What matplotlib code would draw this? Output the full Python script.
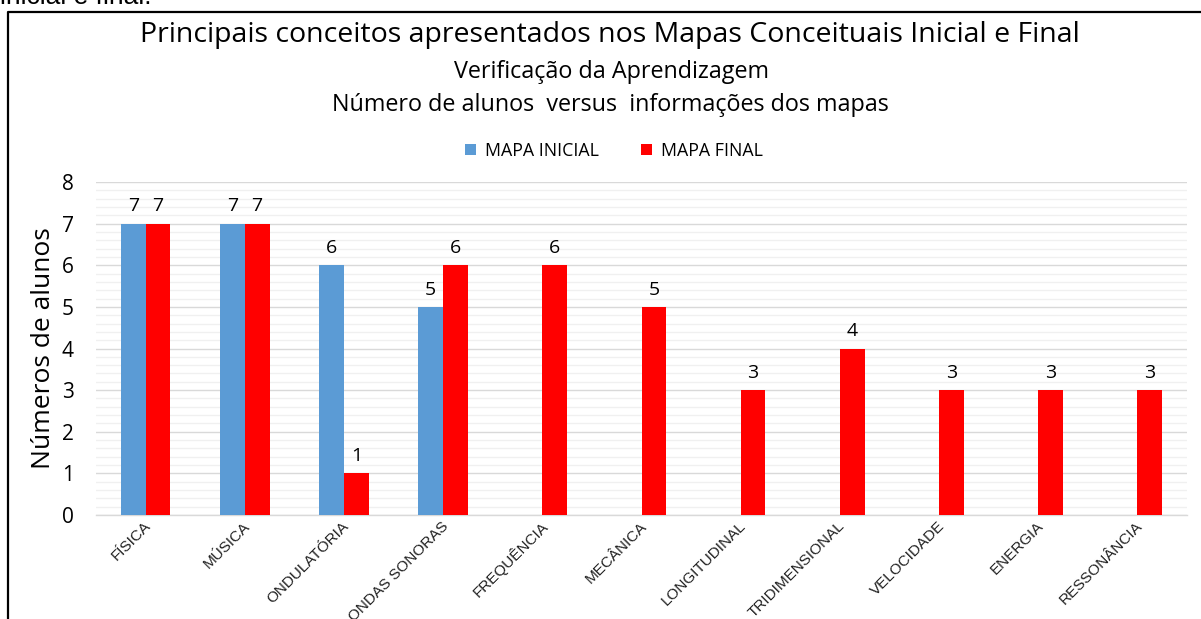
import numpy as np
import matplotlib
matplotlib.use("Agg")
import matplotlib.pyplot as plt
from matplotlib.lines import Line2D
from matplotlib.patches import Patch
from matplotlib.ticker import MultipleLocator
from matplotlib.transforms import offset_copy

categories = ["FÍSICA", "MÚSICA", "ONDULATÓRIA", "ONDAS SONORAS", "FREQUÊNCIA",
              "MECÂNICA", "LONGITUDINAL", "TRIDIMENSIONAL", "VELOCIDADE",
              "ENERGIA", "RESSONÂNCIA"]
mapa_inicial = [7, 7, 6, 5, 0, 0, 0, 0, 0, 0, 0]
mapa_final = [7, 7, 1, 6, 6, 5, 3, 4, 3, 3, 3]
y_ticks = [0, 1, 2, 3, 4, 5, 6, 7, 8]

BLUE = "#5B9BD5"
RED = "#FF0000"
MAIN_FONT = ["Open Sans", "DejaVu Sans"]
TICK_FONT = ["Liberation Sans", "DejaVu Sans"]

W, H = 1201, 619
fig = plt.figure(figsize=(W / 100, H / 100), dpi=100)
fig.patch.set_facecolor("white")

ax = fig.add_axes([96 / W, 1 - 515 / H, (1187 - 96) / W, (515 - 182) / H])

x = np.arange(len(categories))
bw = 0.25
ax.bar(x - bw / 2, mapa_inicial, width=bw, color=BLUE, zorder=3)
ax.bar(x + bw / 2, mapa_final, width=bw, color=RED, zorder=3)

for xi, v in zip(x, mapa_inicial):
    if v > 0:
        ax.annotate(str(v), (xi - bw / 2, v), xytext=(0, 6), textcoords="offset points",
                    ha="center", va="bottom", fontsize=14, family=MAIN_FONT)
for xi, v in zip(x, mapa_final):
    if v > 0:
        ax.annotate(str(v), (xi + bw / 2, v), xytext=(0, 6), textcoords="offset points",
                    ha="center", va="bottom", fontsize=14, family=MAIN_FONT)

ax.set_xlim(-0.5, len(categories) - 0.5)
ax.set_ylim(0, 8)
ax.set_yticks(y_ticks)
ax.yaxis.set_minor_locator(MultipleLocator(0.2))
ax.grid(axis="y", which="major", color="#d9d9d9", linewidth=1.0, zorder=0)
ax.grid(axis="y", which="minor", color="#f0f0f0", linewidth=1.0, zorder=0)
ax.tick_params(axis="y", which="both", length=0, labelsize=15, pad=16)
for lab in ax.get_yticklabels():
    lab.set_family(MAIN_FONT)
ax.tick_params(axis="x", length=0)
for s in ["top", "right", "left"]:
    ax.spines[s].set_visible(False)
ax.spines["bottom"].set_color("#d9d9d9")
ax.spines["bottom"].set_linewidth(1.0)

ax.set_xticks(x)
ax.set_xticklabels([])
trans = ax.get_xaxis_transform()
lab_trans = offset_copy(trans, fig=fig, x=3, y=-9, units="dots")
for xi, c in zip(x, categories):
    ax.text(xi, 0, c, transform=lab_trans, rotation=45, rotation_mode="anchor",
            ha="right", va="center", fontsize=11, family=TICK_FONT, color="#222222")

ax.set_ylabel("Números de alunos", fontsize=19, family=MAIN_FONT, labelpad=4)

fig.text(610 / W, 1 - 35 / H, "Principais conceitos apresentados nos Mapas Conceituais Inicial e Final",
         ha="center", va="center", fontsize=20.5, family=MAIN_FONT)
fig.text(612 / W, 1 - 72 / H, "Verificação da Aprendizagem",
         ha="center", va="center", fontsize=16.8, family=MAIN_FONT)
fig.text(610 / W, 1 - 105 / H, "Número de alunos  versus  informações dos mapas",
         ha="center", va="center", fontsize=16.8, family=MAIN_FONT)

handles = [Patch(facecolor=BLUE, edgecolor="none"), Patch(facecolor=RED, edgecolor="none")]
fig.legend(handles, ["MAPA INICIAL", "MAPA FINAL"], loc="center", bbox_to_anchor=(614 / W, 1 - 151 / H),
           ncol=2, frameon=False, prop={"family": MAIN_FONT, "size": 12.8},
           handlelength=0.6, handleheight=0.6, handletextpad=0.5, columnspacing=2.4)

# caption fragment above the chart frame
fig.text(0, 1 - 4 / H, "inicial e final.", ha="left", va="baseline", fontsize=19, family=TICK_FONT)

# chart frame
fig.add_artist(Line2D([7.5 / W, 7.5 / W, 1.0], [0.0, 1 - 12 / H, 1 - 12 / H],
                      transform=fig.transFigure, color="black", linewidth=1.6))

fig.savefig("out.png", dpi=100, facecolor="white")
